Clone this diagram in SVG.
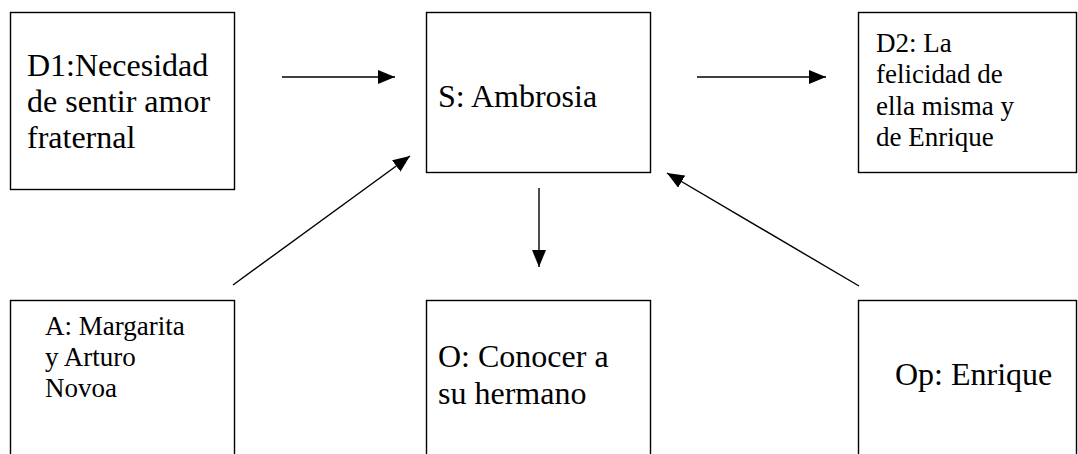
<svg xmlns="http://www.w3.org/2000/svg" width="1078" height="454" viewBox="0 0 1078 454">
<style>
.box{fill:#fff;stroke:#000;stroke-width:1.4}
.c{stroke:#000;stroke-width:1.4;fill:none;marker-end:url(#ah)}
</style>
<defs>
<marker id="ah" markerUnits="userSpaceOnUse" markerWidth="18" markerHeight="14" refX="17" refY="7" orient="auto">
<path d="M0,0 L17,7 L0,14 Z" fill="#000"/>
</marker>
</defs>
<rect width="1078" height="454" fill="#fff"/>
<g font-family="Liberation Serif" fill="#000">
<g id="D1" font-size="32">
<rect class="box" x="10.5" y="12.5" width="224" height="177"/>
<text x="27" y="76">D1:Necesidad</text>
<text x="27" y="112">de sentir amor</text>
<text x="27" y="148">fraternal</text>
</g>
<g id="S" font-size="32">
<rect class="box" x="426.5" y="12.5" width="224" height="160"/>
<text x="438" y="107">S: Ambrosia</text>
</g>
<g id="D2" font-size="27">
<rect class="box" x="858.5" y="12.5" width="218" height="160"/>
<text x="876" y="52">D2: La</text>
<text x="876" y="83">felicidad de</text>
<text x="876" y="115">ella misma y</text>
<text x="876" y="146">de Enrique</text>
</g>
<g id="A" font-size="27">
<rect class="box" x="10.5" y="300.5" width="224" height="170"/>
<text x="45" y="335">A: Margarita</text>
<text x="45" y="366">y Arturo</text>
<text x="45" y="397">Novoa</text>
</g>
<g id="O" font-size="32">
<rect class="box" x="426.5" y="300.5" width="224" height="170"/>
<text x="438" y="367">O: Conocer a</text>
<text x="438" y="404">su hermano</text>
</g>
<g id="Op" font-size="32">
<rect class="box" x="858.5" y="300.5" width="218" height="170"/>
<text x="895" y="385">Op: Enrique</text>
</g>
</g>
<g id="connectors">
<line class="c" x1="282" y1="77" x2="395" y2="77"/>
<line class="c" x1="697" y1="77" x2="826" y2="77"/>
<line class="c" x1="539" y1="188" x2="539" y2="267"/>
<line class="c" x1="233" y1="285" x2="410" y2="156"/>
<line class="c" x1="859" y1="286" x2="667" y2="173"/>
</g>
</svg>
